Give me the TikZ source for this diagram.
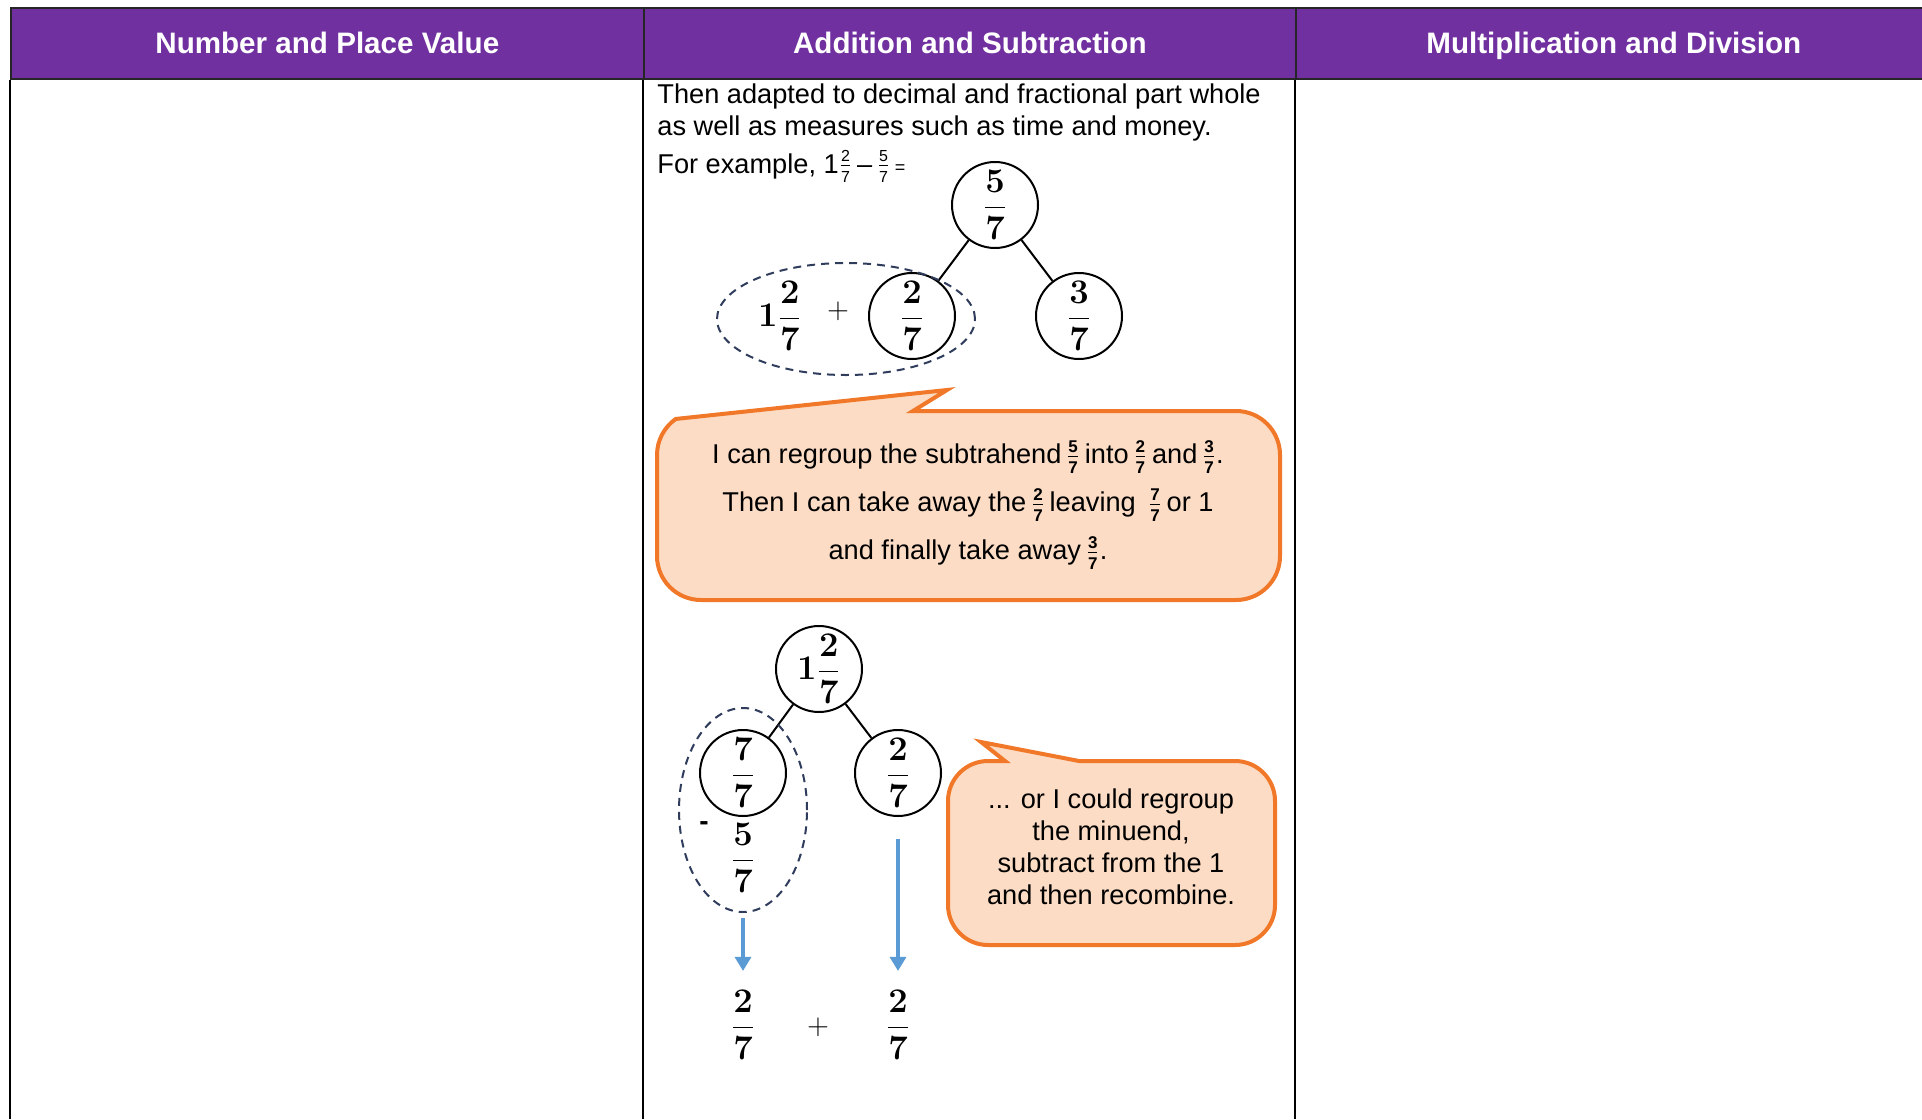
\documentclass[tikz,border=0pt]{standalone}
\usepackage[no-math]{fontspec}
\setmainfont{Liberation Sans}
\usetikzlibrary{positioning, shapes.geometric, arrows.meta}

\definecolor{headpurple}{HTML}{7030A0}
\definecolor{bubblefill}{HTML}{FCDCC4}
\definecolor{bubbleline}{HTML}{F07828}
\definecolor{ringline}{HTML}{2F3C5C}
\definecolor{arrowblue}{HTML}{5B9BD5}

\newcommand{\bigfrac}[2]{$\displaystyle\frac{\mathbf{#1}}{\mathbf{#2}}$}
\newcommand{\smallfrac}[2]{$\frac{\hbox{\fontsize{8}{8}\selectfont #1}}{\hbox{\fontsize{8}{8}\selectfont #2}}$}
\newcommand{\boldfrac}[2]{$\frac{\hbox{\fontsize{8.5}{9}\selectfont\bfseries #1}}{\hbox{\fontsize{8.5}{9}\selectfont\bfseries #2}}$}

\begin{document}
\begin{tikzpicture}[x=0.5pt, y=-0.5pt,
    headcell/.style={draw=black!85, line width=0.8pt, fill=headpurple, text=white,
        font=\fontsize{14.8}{17}\selectfont\bfseries, minimum height=35.5pt,
        text height=10.5pt, text depth=0pt, inner sep=0pt, anchor=north west},
    colrule/.style={line width=0.8pt},
    bodytext/.style={font=\fontsize{13.6}{16}\selectfont, inner sep=0pt},
    partcircle/.style={draw, circle, line width=1pt, minimum size=43pt, inner sep=0pt,
        font=\fontsize{17}{20}\selectfont},
    bare/.style={inner sep=0pt, font=\fontsize{17}{20}\selectfont},
    groupring/.style={draw=ringline, ellipse, dash pattern=on 4pt off 3pt,
        line width=1pt, inner sep=0pt},
    bubble/.style={draw=bubbleline, fill=bubblefill, line width=2pt},
    flowarrow/.style={draw=arrowblue, line width=1.6pt, -{Triangle[width=8pt,length=7pt]}}]
    \useasboundingbox (0,0) rectangle (1922,1119);
    \clip (0,0) rectangle (1922,1119);

    % Header row
    \node[headcell, minimum width=316.5pt] (hnum) at (10,7) {Number and Place Value};
    \node[headcell, minimum width=326pt] (hadd) at (643,7) {Addition and Subtraction};
    \node[headcell, minimum width=318pt] (hmul) at (1295,7) {Multiplication and Division};
    \draw[colrule] (hnum.south west) -- (10,1119);
    \draw[colrule] (hadd.south west) -- (643,1119);
    \draw[colrule] (hmul.south west) -- (1295,1119);

    % Intro text
    \node[bodytext, anchor=base west] (intro1) at (657,103) {Then adapted to decimal and fractional part whole};
    \node[bodytext, anchor=base west] (intro2) at (657,135) {as well as measures such as time and money.};
    \node[bodytext, anchor=base west] (example) at (657,173) {For example, 1\smallfrac{2}{7}\,–\,\smallfrac{5}{7}\,{\fontsize{9}{9}\selectfont =}};

    % Subtrahend split
    \node[partcircle] (whole1) at (995,205) {\bigfrac{5}{7}};
    \node[partcircle] (split1) at (912,316) {\bigfrac{2}{7}};
    \node[partcircle] (rest1) at (1079,316) {\bigfrac{3}{7}};
    \draw[line width=1pt] (whole1) -- (split1);
    \draw[line width=1pt] (whole1) -- (rest1);
    \node[bare] (mixed1) at (780,316) {$\mathbf{1}$\bigfrac{2}{7}};
    \node[bare, font=\fontsize{14}{16}\selectfont] (plus1) at (838,311) {$+$};
    \node[groupring, minimum width=129pt, minimum height=56pt] (ring1) at (846,319) {};

    % First callout
    \draw[bubble] (913,411) -- (1236,411) arc[start angle=270, end angle=360, radius=44]
        -- (1280,556) arc[start angle=0, end angle=90, radius=44]
        -- (701,600) arc[start angle=90, end angle=180, radius=44]
        -- (657,455) arc[start angle=180, end angle=235, radius=44]
        -- (947,390) -- cycle;
    \node[bodytext, align=center, font=\fontsize{13.6}{24}\selectfont] (note1) at (968,505)
        {I can regroup the subtrahend\,\boldfrac{5}{7}\,into\,\boldfrac{2}{7}\,and\,\boldfrac{3}{7}.\\
         Then I can take away the\,\boldfrac{2}{7}\,leaving \,\boldfrac{7}{7}\,or 1\\
         and finally take away\,\boldfrac{3}{7}.};

    % Minuend split
    \node[partcircle] (whole2) at (819,669) {$\mathbf{1}$\bigfrac{2}{7}};
    \node[partcircle] (split2) at (743,773) {\bigfrac{7}{7}};
    \node[partcircle] (rest2) at (898,773) {\bigfrac{2}{7}};
    \draw[line width=1pt] (whole2) -- (split2);
    \draw[line width=1pt] (whole2) -- (rest2);
    \node[bare, font=\fontsize{14}{14}\selectfont\bfseries] (minus2) at (704,826) {-};
    \node[bare] (take2) at (743,858) {\bigfrac{5}{7}};
    \node[groupring, minimum width=64pt, minimum height=102pt] (ring2) at (743,810) {};
    \node[bare] (ans1) at (743,1025) {\bigfrac{2}{7}};
    \node[bare] (ans2) at (898,1025) {\bigfrac{2}{7}};
    \node[bare, font=\fontsize{14}{16}\selectfont] (plus2) at (818,1027) {$+$};
    \draw[flowarrow, shorten <=2.5pt, shorten >=9.5pt] (ring2.south) -- (ans1.north);
    \draw[flowarrow, shorten <=11pt, shorten >=9.5pt] (rest2.south) -- (ans2.north);

    % Second callout
    \draw[bubble] (1079,761) -- (1235,761) arc[start angle=270, end angle=360, radius=40]
        -- (1275,905) arc[start angle=0, end angle=90, radius=40]
        -- (988,945) arc[start angle=90, end angle=180, radius=40]
        -- (948,801) arc[start angle=180, end angle=270, radius=40]
        -- (1005,761) -- (981,742) -- cycle;
    \node[bodytext, align=center] (note2) at (1111,847)
        {... or I could regroup\\the minuend,\\subtract from the 1\\and then recombine.};
\end{tikzpicture}
\end{document}
